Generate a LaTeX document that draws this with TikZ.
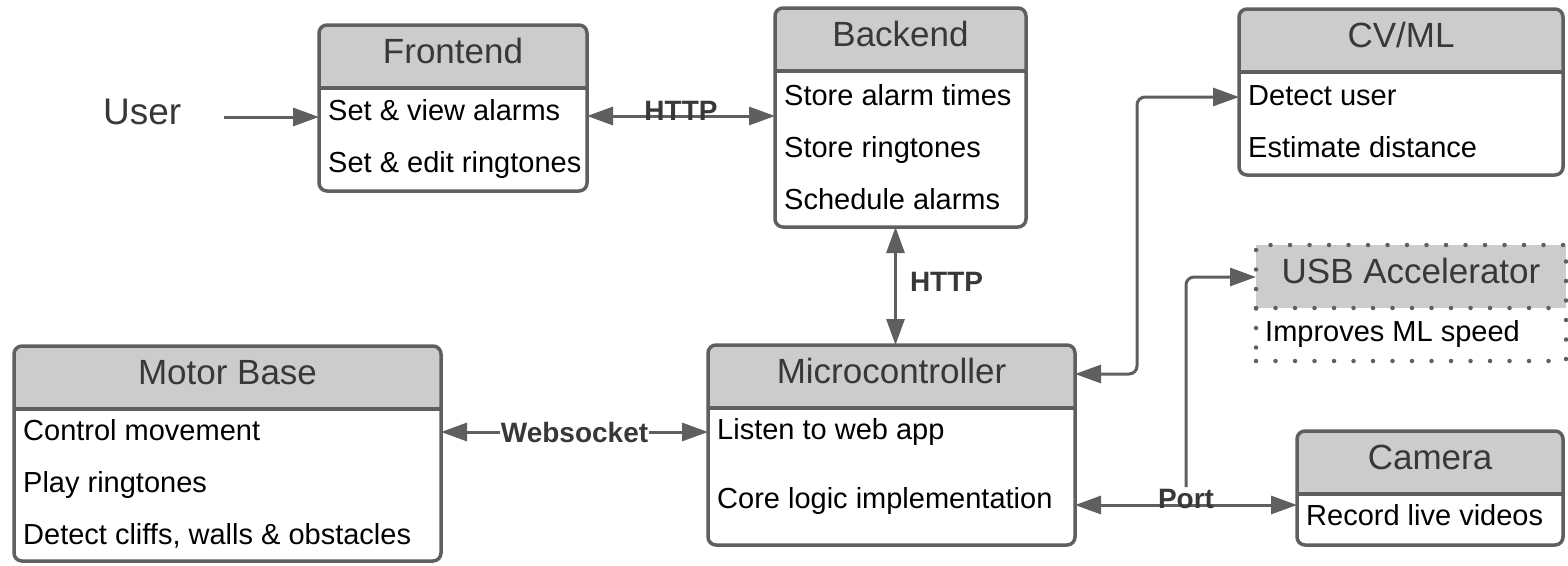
\documentclass[tikz,border=0pt]{standalone}
\usepackage{fontspec}
\setmainfont{Liberation Sans}
\usepackage{xcolor}
\usepackage{tikz}
\usetikzlibrary{arrows.meta, positioning, calc}

\definecolor{linegray}{HTML}{5F5F5F}
\definecolor{headgray}{HTML}{CCCCCC}
\definecolor{titlegray}{HTML}{383838}

\begin{document}
\begin{tikzpicture}[
    x=1pt, y=-1pt,
    block/.style={draw=linegray, line width=3.5pt, rounded corners=8pt, fill=white, inner sep=0pt, outer sep=0pt,
      path picture={\fill[headgray, sharp corners] (path picture bounding box.north west) rectangle ([yshift=-63pt]path picture bounding box.north east);}},
    dotblock/.style={block, sharp corners, line width=4.5pt, line cap=round, dash pattern=on 0pt off 19.5pt},
    head/.style={anchor=base, inner sep=0pt, text=titlegray, font=\fontsize{35}{40}\selectfont},
    item/.style={anchor=base west, inner sep=0pt, font=\fontsize{29}{34}\selectfont},
    rule/.style={draw=linegray, line width=3.5pt},
    dotrule/.style={rule, line width=4.5pt, line cap=round, dash pattern=on 0pt off 19.5pt},
    lbl/.style={inner sep=2pt, text=titlegray, font=\fontsize{28}{32}\selectfont\bfseries},
    arr/.style={draw=linegray, line width=3pt, -{Triangle[length=26pt,width=18pt]}},
    biarr/.style={arr, {Triangle[length=26pt,width=18pt]}-{Triangle[length=26pt,width=18pt]}}
  ]
  \useasboundingbox (0,0) rectangle (1568,565);

  % Blocks
  \node[block, minimum width=268pt, minimum height=166pt] (front) at (453,108) {};
  \node[block, minimum width=251pt, minimum height=219pt] (back) at (900.5,117.5) {};
  \node[block, minimum width=324pt, minimum height=166pt] (cvml) at (1401,92) {};
  \node[dotblock, minimum width=310pt, minimum height=116pt] (usb) at (1411,303) {};
  \node[block, minimum width=266pt, minimum height=114pt] (cam) at (1430,488) {};
  \node[block, minimum width=427pt, minimum height=215pt] (motor) at (227.5,453.5) {};
  \node[block, minimum width=367pt, minimum height=200pt] (micro) at (891.5,445) {};

  % Header rules
  \foreach \b in {front, back, cvml, cam, motor, micro}
    \draw[rule] ([yshift=-63pt]\b.north west) -- ([yshift=-63pt]\b.north east);
  \draw[dotrule] ([yshift=-63pt]usb.north west) -- ([yshift=-63pt]usb.north east);

  % Titles
  \node[head] (fronthd) at ([yshift=-38pt]front.north) {Frontend};
  \node[head] (backhd) at ([yshift=-38pt]back.north) {Backend};
  \node[head] (cvmlhd) at ([yshift=-38pt]cvml.north) {CV/ML};
  \node[head] (usbhd) at ([yshift=-38pt]usb.north) {USB Accelerator};
  \node[head] (camhd) at ([yshift=-38pt]cam.north) {Camera};
  \node[head] (motorhd) at ([yshift=-38pt]motor.north) {Motor Base};
  \node[head] (microhd) at ([yshift=-38pt]micro.north) {Microcontroller};

  % Items
  \foreach \t [count=\i] in {Set \& view alarms, Set \& edit ringtones}
    \node[item] (front\i) at ([xshift=9pt, yshift={-43-52*\i}]front.north west) {\t};
  \foreach \t [count=\i] in {Store alarm times, Store ringtones, Schedule alarms}
    \node[item] (back\i) at ([xshift=9pt, yshift={-45-52*\i}]back.north west) {\t};
  \foreach \t [count=\i] in {Detect user, Estimate distance}
    \node[item] (cvml\i) at ([xshift=9pt, yshift={-44-52*\i}]cvml.north west) {\t};
  \node[item] (usb1) at ([xshift=9pt, yshift=-96pt]usb.north west) {Improves ML speed};
  \node[item] (cam1) at ([xshift=9pt, yshift=-94pt]cam.north west) {Record live videos};
  \foreach \t [count=\i] in {Control movement, Play ringtones, {Detect cliffs, walls \& obstacles}}
    \node[item] (motor\i) at ([xshift=9pt, yshift={-42-52*\i}]motor.north west) {\t};
  \node[item] (micro1) at ([xshift=9pt, yshift=-94pt]micro.north west) {Listen to web app};
  \node[item] (micro2) at ([xshift=9pt, yshift=-163pt]micro.north west) {Core logic implementation};

  % User
  \node[anchor=base west, inner sep=0pt, text=titlegray, font=\fontsize{37}{42}\selectfont] (user) at (103,124) {User};
  \coordinate (ua) at ([yshift=-9pt]front.west);
  \coordinate (us) at ([xshift=42pt]user.east);
  \draw[arr] (us |- ua) -- (ua);

  % Connectors
  \draw[biarr] ([yshift=-8pt]front.east) -- ([yshift=-8pt]front.east -| back.west)
    node[lbl, midway, anchor=base, yshift=-4pt] {HTTP};
  \draw[biarr] ([xshift=-5pt]back.south) -- ([xshift=-5pt]back.south |- micro.north)
    node[lbl, midway, anchor=west, xshift=11pt, yshift=4pt] {HTTP};
  \draw[biarr] ([yshift=21.5pt]motor.east) -- ([yshift=21.5pt]motor.east -| micro.west)
    node[lbl, midway, fill=white, inner sep=1pt] {Websocket};
  \draw[biarr] ([yshift=-60pt]micro.east) -- ([yshift=-60pt]micro.east -| cam.west)
    coordinate[midway] (tap)
    node[lbl, midway, anchor=base, yshift=-3pt] {Port};
  \draw[biarr, rounded corners=8pt] ([yshift=71pt]micro.east) -- ++(62pt,0) |- ([yshift=-5pt]cvml.west);
  \draw[arr, rounded corners=8pt] ([yshift=18pt]tap) |- ([yshift=26pt]usb.west);
\end{tikzpicture}
\end{document}
